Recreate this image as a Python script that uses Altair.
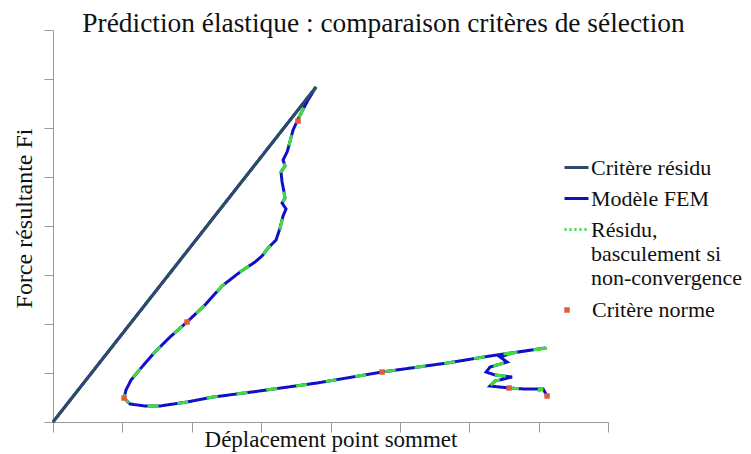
import altair as alt
import pandas as pd

TITLE = "Prédiction élastique : comparaison critères de sélection"
X_TITLE = "Déplacement point sommet"
Y_TITLE = "Force résultante Fi"

S_RESIDU = "Critère résidu"
S_FEM = "Modèle FEM"
S_BASC = "Résidu, basculement si non-convergence"
S_NORME = "Critère norme"
BASC_LINES = ["Résidu,", "basculement si", "non-convergence"]

line_series = [S_RESIDU, S_FEM, S_BASC]
line_colors = ["#2E4A68", "#1010C8", "#3EDC3E"]
legend_dashes = [[1, 0], [1, 0], [2, 3]]

axis_ticks = [0, 1, 2, 3, 4, 5, 6, 7, 8]

# Critère résidu (straight elastic prediction)
residu_x = [0.0, 3.792]
residu_y = [0.0, 6.837]

# Modèle FEM
fem_x = [0.0, 3.792, 3.676, 3.547, 3.460, 3.403, 3.374, 3.316, 3.345, 3.287,
         3.302, 3.330, 3.345, 3.302, 3.359, 3.316, 3.273, 3.215, 3.100, 3.013,
         2.912, 2.696, 2.437, 2.191, 1.932, 1.687, 1.471, 1.269, 1.125, 1.052,
         1.024, 1.110, 1.326, 1.543, 1.932, 2.307, 2.869, 3.806, 4.743, 5.681,
         6.300, 7.093, 6.618, 6.445, 6.546, 6.300, 6.243, 6.373, 6.618, 6.373,
         6.300, 6.574, 6.805, 7.065, 7.122]
fem_y = [0.0, 6.837, 6.571, 6.224, 5.959, 5.653, 5.510, 5.347, 5.224, 5.102,
         4.898, 4.694, 4.571, 4.469, 4.347, 4.204, 3.959, 3.714, 3.551, 3.388,
         3.265, 3.061, 2.776, 2.388, 2.041, 1.735, 1.429, 1.102, 0.857, 0.653,
         0.490, 0.367, 0.327, 0.327, 0.408, 0.510, 0.612, 0.796, 1.020, 1.204,
         1.347, 1.510, 1.408, 1.327, 1.224, 1.122, 1.020, 0.959, 0.918, 0.837,
         0.735, 0.694, 0.673, 0.673, 0.531]

# Résidu, basculement si non-convergence
basc_x = [0.0, 3.792, 3.676, 3.547, 3.460, 3.403, 3.374, 3.316, 3.345, 3.287,
          3.302, 3.330, 3.345, 3.302, 3.359, 3.316, 3.273, 3.215, 3.100, 3.013,
          2.912, 2.696, 2.437, 2.191, 1.932, 1.687, 1.471, 1.269, 1.125, 1.052,
          1.024, 1.110, 1.326, 1.543, 1.932, 2.307, 2.869, 3.806, 4.743, 5.681,
          6.300, 7.093, 7.237, 6.618, 6.445, 6.546, 6.300, 6.243, 6.373, 6.618,
          6.373, 6.300, 6.574, 6.805, 7.065, 6.920]
basc_y = [0.0, 6.837, 6.571, 6.224, 5.959, 5.653, 5.510, 5.347, 5.224, 5.102,
          4.898, 4.694, 4.571, 4.469, 4.347, 4.204, 3.959, 3.714, 3.551, 3.388,
          3.265, 3.061, 2.776, 2.388, 2.041, 1.735, 1.429, 1.102, 0.857, 0.653,
          0.490, 0.367, 0.327, 0.327, 0.408, 0.510, 0.612, 0.796, 1.020, 1.204,
          1.347, 1.510, 1.530, 1.408, 1.327, 1.224, 1.122, 1.020, 0.959, 0.918,
          0.837, 0.735, 0.694, 0.673, 0.673, 0.590]

# Critère norme
norme_x = [3.532, 1.932, 1.024, 4.743, 6.574, 7.122]
norme_y = [6.143, 2.041, 0.490, 1.020, 0.694, 0.531]


def series_frame(name, xs, ys):
    return pd.DataFrame({"serie": name, "ordre": list(range(len(xs))), "x": xs, "y": ys})


lines_df = pd.concat([
    series_frame(S_FEM, fem_x, fem_y),
    series_frame(S_BASC, basc_x, basc_y),
    series_frame(S_RESIDU, residu_x, residu_y),
], ignore_index=True)
norme_df = series_frame(S_NORME, norme_x, norme_y)

FONT = "Liberation Serif"
LEG_FS = 22

label_expr = ("datum.label == '" + S_BASC + "' ? ['" + "', '".join(BASC_LINES)
              + "'] : datum.label")

x_enc = alt.X("x:Q", scale=alt.Scale(domain=[0, 8], nice=False, zero=True),
              axis=alt.Axis(values=axis_ticks, labels=False, grid=False, title=X_TITLE,
                            tickSize=10, titlePadding=14, titleBaseline="alphabetic"))
y_enc = alt.Y("y:Q", scale=alt.Scale(domain=[0, 8], nice=False, zero=True),
              axis=alt.Axis(values=axis_ticks, labels=False, grid=False, title=Y_TITLE,
                            tickSize=9, titlePadding=12, titleBaseline="alphabetic",
                            titleFontSize=24, titleY=188))


def line_legend():
    return alt.Legend(title=None, orient="none", legendX=510, legendY=124,
                      labelFont=FONT, labelFontSize=LEG_FS, labelColor="#111",
                      labelLimit=0, padding=0, rowPadding=6, labelOffset=1,
                      symbolStrokeWidth=3, symbolSize=576, symbolType="stroke",
                      labelExpr=label_expr)


color_enc = alt.Color("serie:N", scale=alt.Scale(domain=line_series, range=line_colors),
                      legend=line_legend())
dash_enc = alt.StrokeDash("serie:N", scale=alt.Scale(domain=line_series, range=legend_dashes),
                          legend=line_legend())

base = alt.Chart(lines_df)

fem_layer = base.transform_filter(alt.datum.serie == S_FEM).mark_line(strokeWidth=3).encode(
    x=x_enc, y=y_enc, order="ordre:Q", color=color_enc, strokeDash=dash_enc)
basc_layer = base.transform_filter(alt.datum.serie == S_BASC).mark_line(
    strokeWidth=3, strokeDash=[11, 19]).encode(
    x=x_enc, y=y_enc, order="ordre:Q", color=color_enc)
residu_layer = base.transform_filter(alt.datum.serie == S_RESIDU).mark_line(strokeWidth=3).encode(
    x=x_enc, y=y_enc, order="ordre:Q", color=color_enc, strokeDash=dash_enc)

norme_layer = alt.Chart(norme_df).mark_point(filled=True, opacity=1, size=30, color="#E45A3C").encode(
    x=x_enc, y=y_enc,
    shape=alt.Shape("serie:N", scale=alt.Scale(domain=[S_NORME], range=["square"]),
                    legend=alt.Legend(title=None, orient="none", legendX=503, legendY=269,
                                      labelFont=FONT, labelFontSize=LEG_FS, labelColor="#111",
                                      labelLimit=0, padding=0,
                                      symbolSize=30, labelOffset=14)))

chart = alt.layer(fem_layer, basc_layer, residu_layer, norme_layer).properties(
    width=555, height=392,
    title=alt.TitleParams(TITLE, font=FONT, fontSize=27.4, fontWeight="normal", color="#111",
                          anchor="middle", dx=53, offset=0, dy=8),
    autosize=alt.AutoSizeParams(type="none"),
    padding={"left": 45, "top": 22, "right": 135, "bottom": 30},
).configure(font=FONT).configure_view(stroke=None).configure_axis(
    domainColor="#9a9a9a", tickColor="#9a9a9a", domainWidth=1, tickWidth=1,
    titleFont=FONT, titleFontSize=23, titleFontWeight="normal", titleColor="#111",
).configure_title(font=FONT).configure_legend(
    labelFont=FONT, labelFontSize=LEG_FS, labelColor="#111", labelLimit=0,
)

chart.save("out.html", embed_options={"renderer": "svg", "actions": False})
